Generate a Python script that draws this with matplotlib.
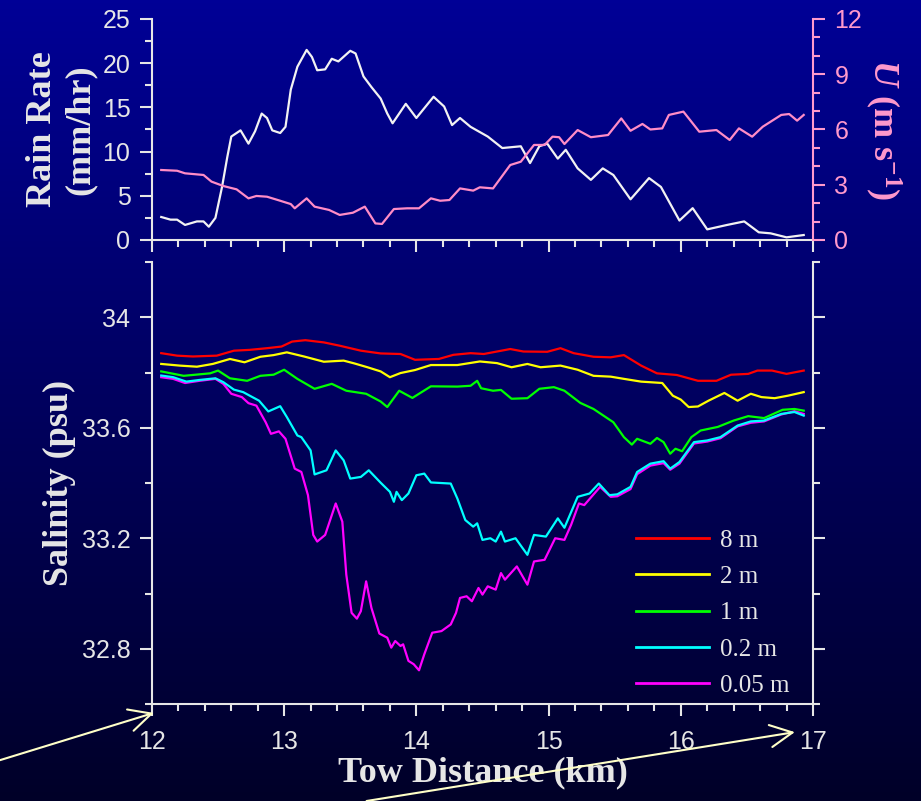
import matplotlib
matplotlib.use("Agg")
import matplotlib.pyplot as plt
from matplotlib.ticker import MultipleLocator, FuncFormatter
import numpy as np

# ─── Rain rate (mm/hr) and wind speed U (m/s) along the tow ──────────────────

rain_km = [12.07, 12.14, 12.19, 12.25, 12.34, 12.39, 12.43, 12.48, 12.53, 12.57,
           12.60, 12.67, 12.73, 12.78, 12.83, 12.87, 12.91, 12.97, 13.01, 13.05,
           13.10, 13.17, 13.21, 13.25, 13.31, 13.36, 13.41, 13.50, 13.54, 13.60,
           13.66, 13.73, 13.78, 13.82, 13.92, 14.00, 14.13, 14.21, 14.27, 14.33,
           14.41, 14.54, 14.65, 14.79, 14.86, 14.93, 14.99, 15.07, 15.13, 15.22,
           15.32, 15.41, 15.49, 15.62, 15.76, 15.85, 15.99, 16.09, 16.20, 16.35,
           16.48, 16.59, 16.68, 16.80, 16.93]
rain_rate = [2.6, 2.3, 2.3, 1.7, 2.1, 2.1, 1.5, 2.5, 6.0, 9.4,
             11.7, 12.4, 10.9, 12.3, 14.3, 13.8, 12.4, 12.1, 12.8, 17.0,
             19.6, 21.5, 20.7, 19.2, 19.3, 20.5, 20.2, 21.4, 21.1, 18.5,
             17.3, 16.0, 14.3, 13.2, 15.4, 13.8, 16.2, 15.1, 13.0, 13.8,
             12.8, 11.7, 10.4, 10.6, 8.7, 10.6, 10.9, 9.2, 10.2, 8.1,
             6.8, 8.1, 7.35, 4.6, 7.0, 6.0, 2.2, 3.6, 1.2, 1.7,
             2.1, 0.87, 0.75, 0.3, 0.56]

wind_km = [12.07, 12.19, 12.25, 12.39, 12.45, 12.54, 12.64, 12.73, 12.79, 12.87,
           12.97, 13.05, 13.08, 13.17, 13.23, 13.34, 13.42, 13.52, 13.61, 13.69,
           13.74, 13.83, 13.93, 14.02, 14.11, 14.18, 14.25, 14.33, 14.43, 14.48,
           14.58, 14.71, 14.79, 14.89, 14.97, 15.03, 15.08, 15.12, 15.22, 15.32,
           15.45, 15.55, 15.62, 15.71, 15.77, 15.86, 15.91, 16.02, 16.14, 16.27,
           16.37, 16.44, 16.54, 16.62, 16.76, 16.82, 16.88, 16.93]
wind_u = [3.8, 3.76, 3.62, 3.53, 3.17, 2.93, 2.75, 2.26, 2.39, 2.35,
          2.13, 1.95, 1.72, 2.26, 1.81, 1.63, 1.36, 1.48, 1.81, 0.9,
          0.87, 1.68, 1.72, 1.72, 2.26, 2.13, 2.17, 2.8, 2.68, 2.86,
          2.8, 4.07, 4.25, 5.16, 5.16, 5.61, 5.58, 5.21, 5.97, 5.58,
          5.7, 6.6, 5.93, 6.3, 6.0, 6.06, 6.79, 6.97, 5.88, 5.97,
          5.43, 6.06, 5.61, 6.15, 6.79, 6.84, 6.48, 6.79]

# ─── Salinity (psu) at each sensor depth ─────────────────────────────────────

sal8_km = [12.07, 12.19, 12.31, 12.49, 12.62, 12.74, 12.87, 12.98, 13.06, 13.16,
           13.30, 13.42, 13.58, 13.73, 13.88, 13.99, 14.17, 14.28, 14.41, 14.51,
           14.71, 14.81, 14.99, 15.09, 15.19, 15.34, 15.47, 15.57, 15.70, 15.82,
           15.97, 16.13, 16.27, 16.38, 16.51, 16.58, 16.69, 16.80, 16.93]
sal8 = [33.870, 33.861, 33.858, 33.861, 33.879, 33.882, 33.888, 33.894, 33.912, 33.917,
        33.909, 33.897, 33.879, 33.869, 33.867, 33.846, 33.849, 33.864, 33.870, 33.867,
        33.885, 33.876, 33.875, 33.888, 33.870, 33.857, 33.855, 33.863, 33.825, 33.797,
        33.791, 33.770, 33.770, 33.792, 33.795, 33.807, 33.807, 33.795, 33.807]

sal2_km = [12.07, 12.21, 12.34, 12.46, 12.59, 12.70, 12.82, 12.92, 13.02, 13.15,
           13.30, 13.45, 13.53, 13.63, 13.73, 13.80, 13.88, 13.99, 14.11, 14.31,
           14.48, 14.61, 14.72, 14.84, 14.94, 15.09, 15.22, 15.34, 15.47, 15.57,
           15.70, 15.86, 15.94, 16.00, 16.06, 16.13, 16.21, 16.33, 16.43, 16.53,
           16.61, 16.71, 16.81, 16.93]
sal2 = [33.831, 33.825, 33.821, 33.831, 33.849, 33.837, 33.857, 33.863, 33.873, 33.858,
        33.839, 33.843, 33.833, 33.819, 33.804, 33.783, 33.798, 33.809, 33.827, 33.827,
        33.840, 33.834, 33.819, 33.831, 33.819, 33.825, 33.810, 33.788, 33.785, 33.777,
        33.767, 33.762, 33.716, 33.702, 33.675, 33.677, 33.698, 33.726, 33.698, 33.723,
        33.711, 33.707, 33.716, 33.729]

sal1_km = [12.07, 12.24, 12.44, 12.50, 12.59, 12.72, 12.82, 12.92, 13.00, 13.10,
           13.23, 13.36, 13.47, 13.62, 13.73, 13.78, 13.87, 13.97, 14.11, 14.31,
           14.41, 14.46, 14.49, 14.58, 14.64, 14.72, 14.84, 14.93, 15.04, 15.12,
           15.24, 15.34, 15.49, 15.57, 15.63, 15.67, 15.77, 15.82, 15.87, 15.92,
           15.96, 16.01, 16.08, 16.15, 16.28, 16.40, 16.51, 16.63, 16.77, 16.86,
           16.93]
sal1 = [33.804, 33.788, 33.797, 33.807, 33.779, 33.770, 33.788, 33.792, 33.810, 33.777,
        33.741, 33.759, 33.734, 33.723, 33.695, 33.675, 33.734, 33.708, 33.750, 33.749,
        33.752, 33.770, 33.743, 33.734, 33.737, 33.705, 33.707, 33.741, 33.747, 33.734,
        33.690, 33.668, 33.620, 33.566, 33.539, 33.560, 33.542, 33.563, 33.548, 33.506,
        33.524, 33.515, 33.566, 33.590, 33.603, 33.626, 33.642, 33.635, 33.665, 33.668,
        33.662]

sal02_km = [12.07, 12.16, 12.26, 12.36, 12.48, 12.54, 12.62, 12.69, 12.74, 12.81,
            12.88, 12.97, 13.02, 13.10, 13.13, 13.20, 13.23, 13.32, 13.39, 13.45,
            13.50, 13.58, 13.64, 13.73, 13.80, 13.83, 13.85, 13.89, 13.94, 14.00,
            14.06, 14.11, 14.26, 14.31, 14.37, 14.43, 14.46, 14.50, 14.56, 14.60,
            14.64, 14.67, 14.75, 14.84, 14.89, 14.98, 15.07, 15.12, 15.22, 15.31,
            15.38, 15.46, 15.52, 15.62, 15.67, 15.77, 15.87, 15.92, 15.99, 16.10,
            16.20, 16.30, 16.43, 16.53, 16.63, 16.76, 16.86, 16.93]
sal02 = [33.789, 33.783, 33.767, 33.773, 33.779, 33.765, 33.738, 33.729, 33.716, 33.698,
         33.659, 33.678, 33.639, 33.572, 33.566, 33.518, 33.431, 33.446, 33.518, 33.482,
         33.416, 33.422, 33.446, 33.401, 33.368, 33.332, 33.368, 33.338, 33.362, 33.428,
         33.434, 33.402, 33.398, 33.344, 33.266, 33.242, 33.254, 33.194, 33.200, 33.188,
         33.224, 33.188, 33.200, 33.140, 33.212, 33.206, 33.272, 33.238, 33.350, 33.362,
         33.398, 33.356, 33.359, 33.386, 33.440, 33.470, 33.479, 33.452, 33.476, 33.548,
         33.554, 33.566, 33.608, 33.623, 33.626, 33.650, 33.657, 33.644]

sal005_km = [12.07, 12.16, 12.25, 12.36, 12.48, 12.54, 12.60, 12.68, 12.73, 12.79,
             12.86, 12.90, 12.96, 13.01, 13.08, 13.13, 13.18, 13.22, 13.25, 13.31,
             13.39, 13.44, 13.47, 13.51, 13.55, 13.58, 13.62, 13.66, 13.72, 13.78,
             13.81, 13.84, 13.88, 13.90, 13.94, 13.98, 14.02, 14.06, 14.12, 14.19,
             14.26, 14.30, 14.33, 14.38, 14.42, 14.47, 14.50, 14.54, 14.60, 14.64,
             14.67, 14.76, 14.84, 14.89, 14.97, 15.05, 15.12, 15.17, 15.23, 15.27,
             15.39, 15.47, 15.52, 15.62, 15.67, 15.77, 15.87, 15.92, 15.99, 16.10,
             16.20, 16.30, 16.43, 16.53, 16.63, 16.76, 16.86, 16.93]
sal005 = [33.783, 33.777, 33.762, 33.770, 33.777, 33.759, 33.723, 33.711, 33.689, 33.680,
          33.620, 33.578, 33.587, 33.560, 33.452, 33.440, 33.356, 33.212, 33.188, 33.212,
          33.326, 33.260, 33.068, 32.930, 32.909, 32.936, 33.044, 32.948, 32.855, 32.840,
          32.804, 32.828, 32.810, 32.816, 32.756, 32.744, 32.722, 32.780, 32.858, 32.864,
          32.888, 32.930, 32.984, 32.990, 32.972, 33.020, 32.996, 33.026, 33.014, 33.074,
          33.050, 33.098, 33.032, 33.116, 33.122, 33.200, 33.194, 33.248, 33.326, 33.320,
          33.386, 33.350, 33.352, 33.378, 33.432, 33.463, 33.472, 33.448, 33.470, 33.543,
          33.550, 33.562, 33.605, 33.618, 33.623, 33.648, 33.660, 33.650]

depth_labels = ["8 m", "2 m", "1 m", "0.2 m", "0.05 m"]

# ─── Style ───────────────────────────────────────────────────────────────────

BG_TOP = np.array([0, 0, 150]) / 255
BG_BOTTOM = np.array([0, 0, 40]) / 255
FG = "#E6E6E6"
PINK = "#FF99CC"
PINK_LINE = "#FF8CC6"
ARROW = "#FFFFC8"
DEPTH_COLORS = ["#FF0000", "#FFFF00", "#00FF00", "#00FFFF", "#FF00FF"]

plt.rcParams["font.family"] = "Liberation Sans"
plt.rcParams["mathtext.fontset"] = "custom"
plt.rcParams["mathtext.rm"] = "Liberation Serif:bold"
plt.rcParams["mathtext.it"] = "Liberation Serif:italic:bold"
plt.rcParams["mathtext.bf"] = "Liberation Serif:bold"

LABEL_FONT = dict(family="Liberation Serif", weight="bold", size=26)
TICK_SIZE = 18


def _ticks(ax, axis, color, **kw):
    ax.tick_params(axis=axis, which="both", direction="out", color=color,
                   width=1.5, labelcolor=color, labelsize=TICK_SIZE, **kw)
    ax.tick_params(axis=axis, which="major", length=8.5, pad=7)
    ax.tick_params(axis=axis, which="minor", length=5)


fig = plt.figure(figsize=(9.21, 8.01), dpi=100)

# vertical navy gradient behind everything
bg = fig.add_axes([0, 0, 1, 1], zorder=-10)
t = np.linspace(0, 1, 256)[:, None, None]
bg.imshow(BG_TOP * (1 - t) + BG_BOTTOM * t, aspect="auto", extent=[0, 1, 0, 1])
bg.axis("off")

# ─── Top panel: rain rate + wind ─────────────────────────────────────────────

ax_r = fig.add_axes([0.165, 0.7004, 0.7177, 0.2759])
ax_r.set_facecolor("none")
ax_r.plot(rain_km, rain_rate, color="#F2F2F2", lw=1.6)
ax_r.set_xlim(12, 17)
ax_r.set_ylim(0, 25)
ax_r.xaxis.set_major_locator(MultipleLocator(1))
ax_r.xaxis.set_minor_locator(MultipleLocator(0.2))
ax_r.yaxis.set_major_locator(MultipleLocator(5))
ax_r.yaxis.set_minor_locator(MultipleLocator(2.5))
_ticks(ax_r, "both", FG)
ax_r.tick_params(axis="x", labelbottom=False)
for side in ("top", "right"):
    ax_r.spines[side].set_visible(False)
for side in ("left", "bottom"):
    ax_r.spines[side].set_color(FG)
    ax_r.spines[side].set_linewidth(1.5)
ax_r.set_ylabel("Rain Rate\n(mm/hr)", color=FG, labelpad=4,
                linespacing=1.2, **LABEL_FONT)

ax_w = ax_r.twinx()
ax_w.set_facecolor("none")
ax_w.plot(wind_km, wind_u, color=PINK_LINE, lw=1.6)
ax_w.set_ylim(0, 12)
ax_w.yaxis.set_major_locator(MultipleLocator(3))
ax_w.yaxis.set_minor_locator(MultipleLocator(1))
_ticks(ax_w, "y", PINK)
for side in ("top", "left", "bottom"):
    ax_w.spines[side].set_visible(False)
ax_w.spines["right"].set_color(PINK)
ax_w.spines["right"].set_linewidth(1.5)
ax_w.set_ylabel(r"$\mathit{U}$ (m s$^{-1}$)", color=PINK, rotation=270,
                labelpad=30, **LABEL_FONT)

# ─── Bottom panel: salinity by depth ─────────────────────────────────────────

ax_s = fig.add_axes([0.165, 0.1211, 0.7177, 0.5518])
ax_s.set_facecolor("none")
series = [(sal8_km, sal8), (sal2_km, sal2), (sal1_km, sal1),
          (sal02_km, sal02), (sal005_km, sal005)]
orders = [3, 3, 3, 4, 2]
for (x, y), lab, col, z in zip(series, depth_labels, DEPTH_COLORS, orders):
    ax_s.plot(x, y, color=col, lw=1.6, label=lab, zorder=z)

ax_s.set_xlim(12, 17)
ax_s.set_ylim(32.6, 34.2)
ax_s.xaxis.set_major_locator(MultipleLocator(1))
ax_s.xaxis.set_minor_locator(MultipleLocator(0.2))
ax_s.yaxis.set_major_locator(MultipleLocator(0.4))
ax_s.yaxis.set_minor_locator(MultipleLocator(0.2))
ax_s.yaxis.set_major_formatter(
    FuncFormatter(lambda v, _: f"{v:.1f}".rstrip("0").rstrip(".")))
_ticks(ax_s, "both", FG, right=True)
ax_s.tick_params(axis="x", which="major", pad=10)
ax_s.spines["top"].set_visible(False)
for side in ("left", "right", "bottom"):
    ax_s.spines[side].set_color(FG)
    ax_s.spines[side].set_linewidth(1.5)

ax_s.set_ylabel("Salinity (psu)", color=FG, labelpad=4, **LABEL_FONT)
ax_s.set_xlabel("Tow Distance (km)", color=FG, labelpad=2, **LABEL_FONT)

leg = ax_s.legend(loc="lower left", bbox_to_anchor=(0.733, 0.016),
                  frameon=False, borderpad=0, borderaxespad=0,
                  handlelength=2.9, handletextpad=0.45, labelspacing=0.55,
                  prop=dict(family="Liberation Serif", size=18))
for h in leg.get_lines():
    h.set_linewidth(2)
for txt in leg.get_texts():
    txt.set_color(FG)

# ─── Pointer arrows along the distance axis ──────────────────────────────────

ov = fig.add_axes([0, 0, 1, 1], zorder=10)
ov.set_xlim(0, 1)
ov.set_ylim(0, 1)
ov.axis("off")
arrow_style = dict(arrowstyle="->,head_length=0.8,head_width=0.4",
                   color=ARROW, lw=1.5, shrinkA=0, shrinkB=0,
                   mutation_scale=20)
ov.annotate("", xy=(0.167, 0.110), xytext=(0.0, 0.051), arrowprops=arrow_style)
ov.annotate("", xy=(0.863, 0.086), xytext=(0.398, 0.0), arrowprops=arrow_style)

fig.savefig("out.png", dpi=100)
